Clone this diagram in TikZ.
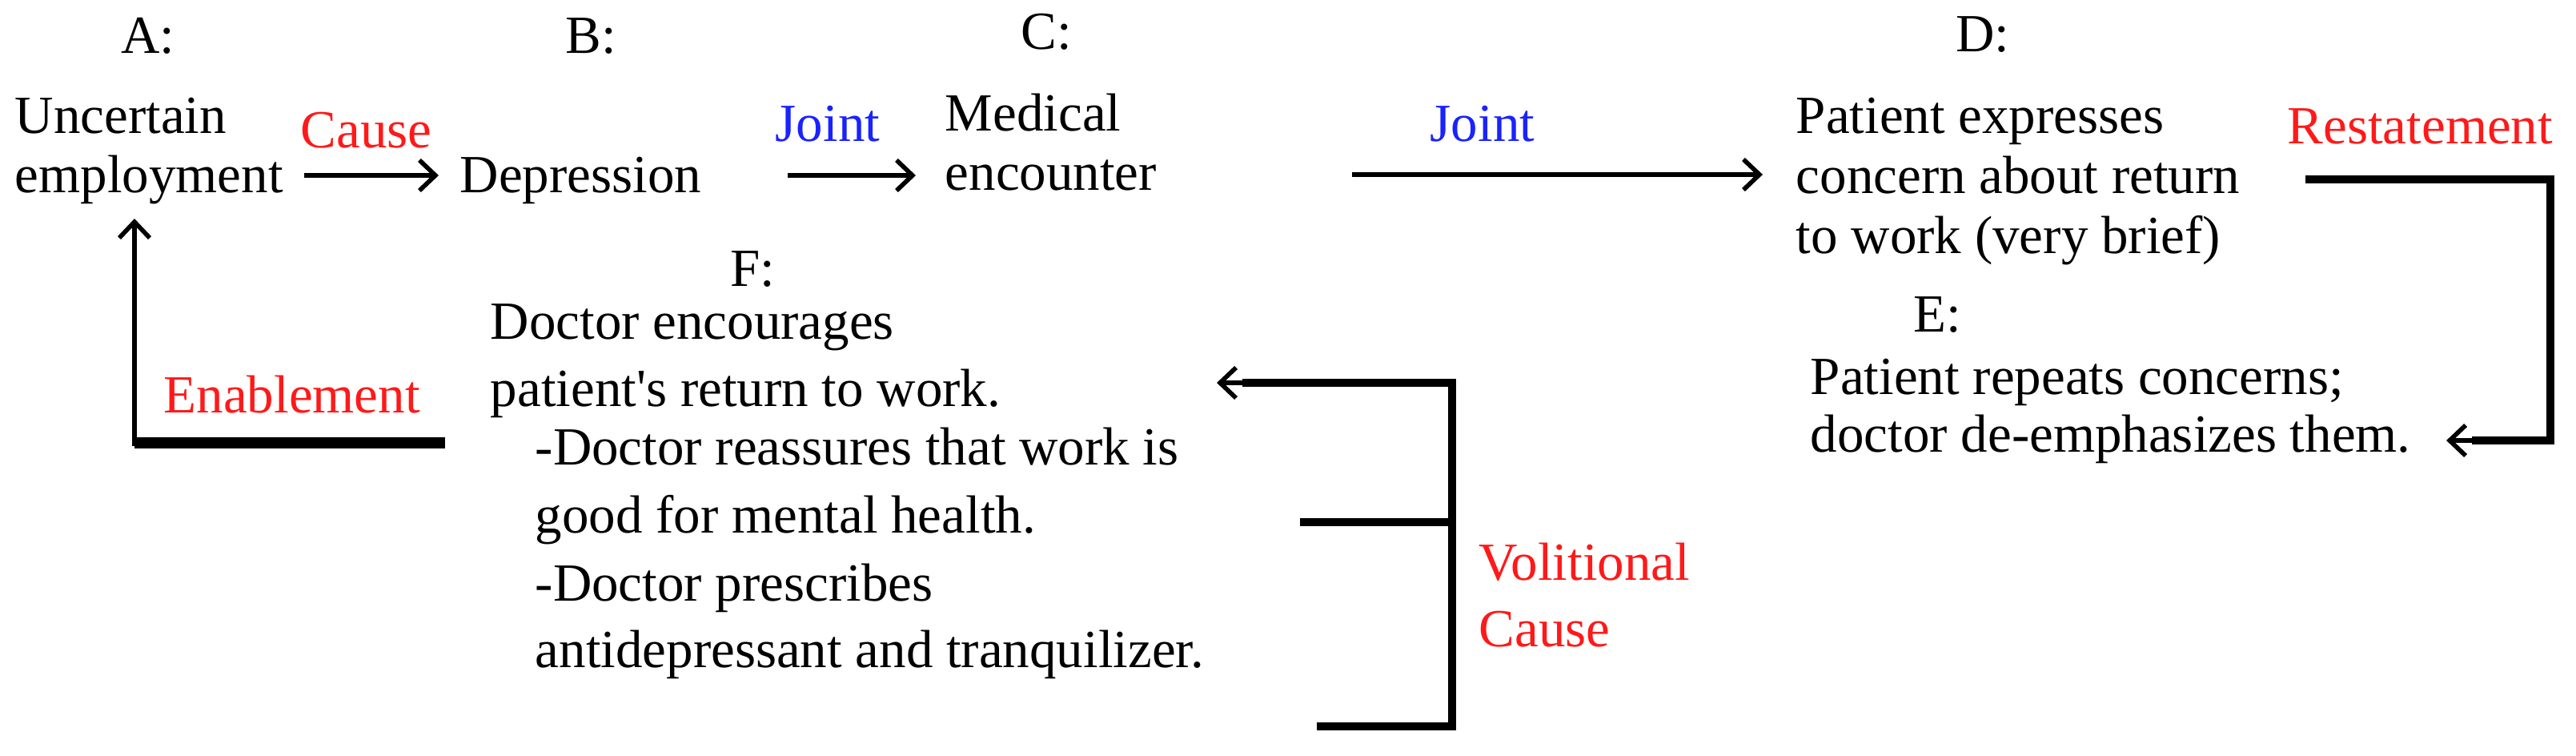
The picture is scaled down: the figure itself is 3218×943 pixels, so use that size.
\documentclass[tikz,border=0pt]{standalone}
\usepackage{fontspec}
\setmainfont{Liberation Serif}
\newfontfamily\rawserif{Liberation Serif}
\usetikzlibrary{arrows.meta}
\definecolor{relred}{RGB}{255,25,25}
\definecolor{relblue}{RGB}{25,35,255}
\newcommand{\apos}{{\rawserif'}}
\tikzset{
  txt/.style={inner sep=0pt, anchor=base west, align=left, font=\fontsize{16.75}{18.5}\selectfont},
  lbl/.style={inner sep=0pt, anchor=base, font=\fontsize{16.75}{18.5}\selectfont},
  redrel/.style={txt, text=relred},
  bluerel/.style={txt, text=relblue},
  arrowline/.style={line width=1.6pt, -{Straight Barb[length=5pt,width=9.5pt,line width=1.4pt]}},
  bracketline/.style={line width=2.4pt, line cap=butt, line join=miter},
  thinline/.style={line width=1.5pt}
}
\begin{document}
\begin{tikzpicture}[x=0.25pt,y=-0.25pt]
\useasboundingbox (0,0) rectangle (3218,943);

% letter labels
\node[lbl] (lA) at (185,66) {A:};
\node[lbl] (lB) at (738,66) {B:};
\node[lbl] (lC) at (1307,61) {C:};
\node[lbl] (lD) at (2477,64) {D:};
\node[lbl] (lE) at (2420,414) {E:};
\node[lbl] (lF) at (940,357) {F:};

% text blocks (base anchor = baseline of the last line)
\node[txt] (A) at (18,240) {Uncertain\\employment};
\node[txt] (B) at (574,240) {Depression};
\node[txt] (C) at (1180,237) {Medical\\encounter};
\node[txt, font=\fontsize{16.75}{18.75}\selectfont] (D) at (2243,316) {Patient expresses\\concern about return\\to work (very brief)};
\node[txt, font=\fontsize{16.75}{18}\selectfont] (E) at (2261,564) {Patient repeats concerns;\\doctor de-emphasizes them.};
\node[txt] (F) at (612,833) {Doctor encourages\\[2.5pt]
patient\apos s return to work.\\[-0.25pt]
\hspace*{14pt}-Doctor reassures that work is\\[2.75pt]
\hspace*{14pt}good for mental health.\\[2.75pt]
\hspace*{14pt}-Doctor prescribes\\[2.25pt]
\hspace*{14pt}antidepressant and tranquilizer.};

% relation labels
\node[redrel] (rCause) at (375,184) {Cause};
\node[bluerel] (rJointA) at (968,176) {Joint};
\node[bluerel] (rJointB) at (1786,176) {Joint};
\node[redrel] (rRest) at (2857,179) {Restatement};
\node[redrel] (rEnable) at (204,515) {Enablement};
\node[redrel, font=\fontsize{16.75}{20.75}\selectfont] (rVol) at (1847,807) {Volitional\\Cause};

% connector end points
\coordinate (ab1) at (380,219);
\coordinate (ab2) at (548,219);
\coordinate (bc1) at (984,219);
\coordinate (bc2) at (1144,219);
\coordinate (cd1) at (1689,218);
\coordinate (cd2) at (2202,218);
\coordinate (de1) at (2880,224);
\coordinate (de2) at (3186,550);
\coordinate (de3) at (3056,550);
\coordinate (vtop) at (1814,478);
\coordinate (vtip) at (1520,478);
\coordinate (vmid) at (1624,652);
\coordinate (vbot) at (1645,907);
\coordinate (fa1) at (556,553);
\coordinate (fa2) at (168,273);

% connectors
\draw[arrowline] (ab1) -- (ab2);
\draw[arrowline] (bc1) -- (bc2);
\draw[arrowline] (cd1) -- (cd2);
\draw[bracketline] (de1) -| (de2) -- ([xshift=8pt]de3);
\draw[arrowline] ([xshift=8pt]de3) -- (de3);
\draw[bracketline] (vbot) -| (vtop) -- ([xshift=8pt]vtip);
\draw[bracketline] (vmid) -- (vmid -| vtop);
\draw[arrowline] ([xshift=8pt]vtip) -- (vtip);
\draw[line width=3.4pt] (fa1) -- (fa1 -| fa2);
\draw[thinline, -{Straight Barb[length=5pt,width=9.5pt,line width=1.4pt]}] ([yshift=-1pt]fa1 -| fa2) -- (fa2);
\end{tikzpicture}
\end{document}
